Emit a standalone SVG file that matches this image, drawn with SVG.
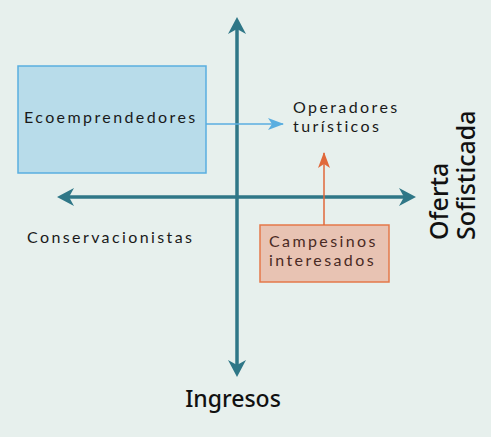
<svg xmlns="http://www.w3.org/2000/svg" width="491" height="437" viewBox="0 0 491 437">
<defs>
<style>
.axis{stroke:#2f7787;stroke-width:3.5;fill:none}
.head{fill:#2f7787}
.lbl{font-family:Lato,"Liberation Sans",sans-serif;font-weight:400;font-size:16px;letter-spacing:2.4px;fill:#1a1a1a}
.big{font-family:"Noto Sans","Liberation Sans",sans-serif;font-weight:500;fill:#111}
</style>
<marker id="blueHead" viewBox="0 0 16 12" refX="15" refY="6" markerWidth="16" markerHeight="12" markerUnits="userSpaceOnUse" orient="auto">
<path d="M0,0 L16,6 L0,12 L4,6 Z" fill="#5aaee0"/>
</marker>
<marker id="orangeHead" viewBox="0 0 16 12" refX="15" refY="6" markerWidth="16" markerHeight="12" markerUnits="userSpaceOnUse" orient="auto">
<path d="M0,0 L16,6 L0,12 L4,6 Z" fill="#e0683a"/>
</marker>
</defs>
<rect width="491" height="437" fill="#e7f0ed"/>
<g id="axes">
<line class="axis" x1="237" y1="28" x2="237" y2="366"/>
<line class="axis" x1="68" y1="197" x2="405" y2="197"/>
<path class="head" d="M237,17 L246,34 L237,29 L228,34 Z"/>
<path class="head" d="M237,377 L246,360 L237,365 L228,360 Z"/>
<path class="head" d="M57,197 L74,188 L69,197 L74,206 Z"/>
<path class="head" d="M416,197 L399,188 L404,197 L399,206 Z"/>
</g>
<g id="ecoemprendedores">
<rect x="18" y="66" width="188" height="107" fill="#b8dcea" stroke="#5aaee0" stroke-width="1.5"/>
<text class="lbl" x="24" y="123">Ecoemprendedores</text>
</g>
<g id="operadores">
<text class="lbl" x="293" y="113">Operadores</text>
<text class="lbl" x="293" y="132">turísticos</text>
</g>
<g id="campesinos">
<rect x="260" y="225" width="129" height="57" fill="#e8c3b3" stroke="#e5784a" stroke-width="1.5"/>
<text class="lbl" x="269" y="247" style="fill:#4a2a24">Campesinos</text>
<text class="lbl" x="269" y="266" style="fill:#4a2a24">interesados</text>
</g>
<g id="conservacionistas">
<text class="lbl" x="27" y="243">Conservacionistas</text>
</g>
<g id="connectors">
<line x1="206" y1="124" x2="283" y2="124" stroke="#5aaee0" stroke-width="1.5" marker-end="url(#blueHead)"/>
<line x1="324" y1="225" x2="324" y2="153" stroke="#e0683a" stroke-width="1.5" marker-end="url(#orangeHead)"/>
</g>
<g id="ingresos">
<text class="big" x="233" y="407" text-anchor="middle" font-size="23">Ingresos</text>
</g>
<g id="oferta">
<text class="big" font-size="25" transform="translate(448,240) rotate(-90)">Oferta</text>
<text class="big" font-size="25" transform="translate(475,240) rotate(-90)">Sofisticada</text>
</g>
</svg>
